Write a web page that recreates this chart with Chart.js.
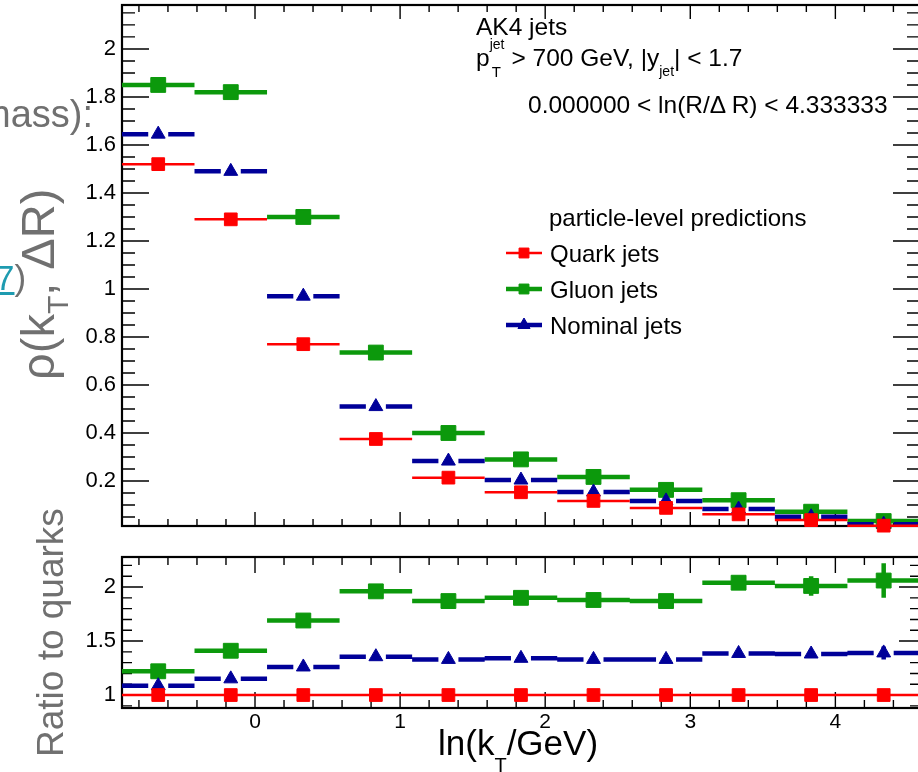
<!DOCTYPE html>
<html lang="en">
<head>
<meta charset="UTF-8">
<meta name="viewport" content="width=device-width, initial-scale=1.0">
<title>Primary Lund plane density: quark vs gluon jets</title>
<script src="https://cdn.jsdelivr.net/npm/chart.js"></script>
<style>
  html, body { margin: 0; padding: 0; background: #fff; }
  body { position: relative; width: 918px; height: 772px; overflow: hidden;
         font-family: "Liberation Sans", Arial, Helvetica, sans-serif; }
  .pane { position: absolute; left: 0; width: 930px; }
  #topPane { top: 0; height: 540px; }
  #ratioPane { top: 540px; height: 232px; }
  .label { position: absolute; white-space: nowrap; line-height: 1; color: #000; z-index: 2; }
  .slide { position: absolute; white-space: nowrap; line-height: 1; color: #707070; z-index: 3; }
  .rot { transform: rotate(-90deg); transform-origin: 0 0; }
  .ss { position: relative; display: inline-block; width: 15px; height: 1px; }
  .ss .up { position: absolute; left: 0; top: -28px; font-size: 14px; }
  .ss .dn { position: absolute; left: 2px; top: -1px; font-size: 15px; }
  .sb { position: relative; top: 10px; font-size: 14px; }
  .xt { position: relative; top: 17px; font-size: 20px; }
</style>
</head>
<body>
<div class="pane" id="topPane"><canvas id="rhoChart"></canvas></div>
<div class="pane" id="ratioPane"><canvas id="ratioChart"></canvas></div>

<!-- plot annotations -->
<div class="label" style="left:476px; top:15px; font-size:24.5px;">AK4 jets</div>
<div class="label" style="left:476px; top:46px; font-size:24.5px;">p<span class="ss"><span class="up">jet</span><span class="dn">T</span></span> &gt; 700 GeV, |y<span class="sb">jet</span>| &lt; 1.7</div>
<div class="label" style="left:528px; top:93px; font-size:24.5px;">0.000000 &lt; ln(R/&Delta; R) &lt; 4.333333</div>
<div class="label" style="left:438px; top:725px; font-size:35px;">ln(k<span class="xt">T</span>/GeV)</div>

<!-- slide text around the cropped figure -->
<div class="slide" style="right:825px; top:95px; font-size:38px;">mass):</div>
<div class="slide" style="left:-5px; top:260px; font-size:35px;"><span style="color:#1e9bb0; text-decoration:underline;">7</span>)</div>
<div class="slide rot" style="left:14px; top:380px; font-size:47px;">&rho;(k<span style="position:relative; top:14px; font-size:30px;">T</span>, &Delta;R)</div>
<div class="slide rot" style="left:32px; top:757px; font-size:37px;">Ratio to quarks</div>

<script>
    // bins in ln(kT/GeV), width 0.5
    const binCenters = [-0.667, -0.167, 0.333, 0.833, 1.333, 1.833, 2.333, 2.833, 3.333, 3.833, 4.333];
    const binHalfWidth = 0.25;

    // rho(kT, dR) per bin
    const quarkRho   = [1.52, 1.29, 0.77, 0.375, 0.214, 0.153, 0.117, 0.088, 0.061, 0.037, 0.014];
    const gluonRho   = [1.85, 1.82, 1.30, 0.735, 0.400, 0.290, 0.217, 0.163, 0.120, 0.072, 0.033];
    const nominalRho = [1.645, 1.49, 0.97, 0.51, 0.283, 0.204, 0.154, 0.117, 0.083, 0.051, 0.020];

    // ratio to quark jets
    const quarkRatio      = [1, 1, 1, 1, 1, 1, 1, 1, 1, 1, 1];
    const gluonRatio      = [1.22, 1.41, 1.69, 1.96, 1.87, 1.90, 1.88, 1.87, 2.04, 2.01, 2.06];
    const gluonRatioErr   = [0, 0, 0, 0, 0, 0, 0, 0, 0.04, 0.09, 0.16];
    const nominalRatio    = [1.086, 1.15, 1.26, 1.355, 1.33, 1.34, 1.33, 1.33, 1.385, 1.38, 1.39];
    const nominalRatioErr = [0, 0, 0, 0, 0, 0, 0, 0, 0, 0.02, 0.06];

    // axis ranges
    const kTRange    = [-0.9167, 4.5833];
    const rhoRange   = [0.0125, 2.183];
    const ratioRange = [0.88, 2.278];
    const legendTitle = 'particle-level predictions';

    const fontFamily = '"Liberation Sans", Arial, Helvetica, sans-serif';
    Chart.defaults.font.family = fontFamily;
    Chart.defaults.color = '#000';

    const quarkStyle   = { label: 'Quark jets',   color: '#ff0000', marker: 'rect',     radius: 9,    width: 2.5, gap: 0 };
    const gluonStyle   = { label: 'Gluon jets',   color: '#0c990c', marker: 'rect',     radius: 10.5, width: 4.5, gap: 0 };
    const nominalStyle = { label: 'Nominal jets', color: '#000099', marker: 'triangle', radius: 8,    width: 4.5, gap: 10 };

    function makeDataset(s, values, errs) {
        return {
            label: s.label,
            data: binCenters.map((x, i) => ({ x: x, y: values[i], xerr: binHalfWidth, yerr: errs ? errs[i] : 0 })),
            pointStyle: s.marker,
            pointRadius: s.radius,
            pointHoverRadius: s.radius,
            backgroundColor: s.color,
            borderColor: s.color,
            borderWidth: 1,
            barWidth: s.width,
            barGap: s.gap,
            showLine: false,
            clip: false
        };
    }

    // horizontal bin-width bars and vertical stat. errors, drawn just under each dataset's markers
    const errorBars = {
        id: 'errorBars',
        beforeDatasetDraw(chart, args) {
            const ds = chart.data.datasets[args.index];
            const xs = chart.scales.x, ys = chart.scales.y;
            const ctx = chart.ctx;
            ctx.save();
            ctx.strokeStyle = ds.borderColor;
            ctx.lineWidth = ds.barWidth;
            ctx.beginPath();
            ds.data.forEach(p => {
                const px = xs.getPixelForValue(p.x), py = ys.getPixelForValue(p.y);
                const x0 = xs.getPixelForValue(p.x - p.xerr), x1 = xs.getPixelForValue(p.x + p.xerr);
                ctx.moveTo(x0, py); ctx.lineTo(px - ds.barGap, py);
                ctx.moveTo(px + ds.barGap, py); ctx.lineTo(x1, py);
                if (p.yerr) {
                    ctx.moveTo(px, ys.getPixelForValue(p.y - p.yerr));
                    ctx.lineTo(px, ys.getPixelForValue(p.y + p.yerr));
                }
            });
            ctx.stroke();
            ctx.restore();
        }
    };

    function eachTick(scale, minor, major, fn) {
        const k0 = Math.ceil(scale.min / minor - 1e-6), k1 = Math.floor(scale.max / minor + 1e-6);
        for (let k = k0; k <= k1; k++) {
            const v = k * minor, r = v / major;
            fn(v, Math.abs(r - Math.round(r)) < 1e-6);
        }
    }

    // ROOT style frame with ticks pointing inwards on all four sides
    const rootAxes = {
        id: 'rootAxes',
        beforeDatasetsDraw(chart, args, o) {
            const { ctx, chartArea: a } = chart;
            const x = chart.scales.x, y = chart.scales.y;
            ctx.save();
            ctx.strokeStyle = '#000';
            ctx.lineWidth = 1.4;
            ctx.beginPath();
            eachTick(x, o.xMinor, o.xMajor, (v, major) => {
                const px = x.getPixelForValue(v), len = major ? o.xMajorLen : o.xMinorLen;
                ctx.moveTo(px, a.top); ctx.lineTo(px, a.top + len);
                ctx.moveTo(px, a.bottom); ctx.lineTo(px, a.bottom - len);
            });
            eachTick(y, o.yMinor, o.yMajor, (v, major) => {
                const py = y.getPixelForValue(v), len = major ? o.yMajorLen : o.yMinorLen;
                ctx.moveTo(a.left, py); ctx.lineTo(a.left + len, py);
                ctx.moveTo(a.right, py); ctx.lineTo(a.right - len, py);
            });
            ctx.stroke();
            ctx.lineWidth = 2.2;
            ctx.strokeRect(a.left, a.top, a.width, a.height);
            ctx.restore();
        }
    };

    const rootLegend = {
        id: 'rootLegend',
        afterDraw(chart, args, o) {
            if (!o.show) return;
            const ctx = chart.ctx;
            ctx.save();
            ctx.font = o.fontSize + 'px ' + fontFamily;
            ctx.textBaseline = 'alphabetic';
            ctx.fillStyle = '#000';
            ctx.fillText(o.title, o.titleX, o.titleY);
            o.order.forEach((idx, k) => {
                const ds = chart.data.datasets[idx];
                const yc = o.rowY[k];
                ctx.strokeStyle = ds.borderColor;
                ctx.lineWidth = ds.barWidth;
                ctx.beginPath();
                ctx.moveTo(o.symX0, yc); ctx.lineTo(o.symX1, yc);
                ctx.stroke();
                ctx.fillStyle = ds.backgroundColor;
                ctx.lineWidth = 1;
                Chart.helpers.drawPoint(ctx, { pointStyle: ds.pointStyle, radius: o.markerRadius, rotation: 0, borderWidth: 1 },
                    (o.symX0 + o.symX1) / 2, yc);
                ctx.fillStyle = '#000';
                ctx.fillText(ds.label, o.textX, yc + o.baselineShift);
            });
            ctx.restore();
        }
    };

    function majorLabel(step) {
        return v => {
            const r = v / step;
            return Math.abs(r - Math.round(r)) < 1e-6 ? String(+v.toFixed(2)) : null;
        };
    }

    function yAxis(range, step) {
        return {
            type: 'linear',
            min: range[0],
            max: range[1],
            grid: { display: false, drawTicks: false },
            border: { display: false },
            ticks: { stepSize: step, includeBounds: false, autoSkip: false, padding: 6,
                     font: { size: 22 }, color: '#000', callback: majorLabel(step) },
            afterFit: s => { s.width = 122; s.paddingTop = 0; s.paddingBottom = 0; }
        };
    }

    // upper panel
    new Chart(document.getElementById('rhoChart'), {
        type: 'scatter',
        data: {
            datasets: [
                makeDataset(quarkStyle, quarkRho),
                makeDataset(nominalStyle, nominalRho),
                makeDataset(gluonStyle, gluonRho)
            ]
        },
        options: {
            responsive: true,
            maintainAspectRatio: false,
            animation: false,
            events: [],
            layout: { autoPadding: false, padding: { left: 0, top: 5, right: 10, bottom: 14 } },
            scales: {
                x: { type: 'linear', min: kTRange[0], max: kTRange[1], display: false },
                y: yAxis(rhoRange, 0.2)
            },
            plugins: {
                legend: { display: false },
                tooltip: { enabled: false },
                rootAxes: { xMinor: 0.2, xMajor: 1, xMajorLen: 14, xMinorLen: 7,
                            yMinor: 0.05, yMajor: 0.2, yMajorLen: 27, yMinorLen: 13 },
                rootLegend: { show: true, title: legendTitle, fontSize: 24, titleX: 549, titleY: 226,
                              order: [0, 2, 1], rowY: [253, 289, 325], symX0: 506, symX1: 542,
                              markerRadius: 7, textX: 550, baselineShift: 8.5 }
            }
        },
        plugins: [errorBars, rootAxes, rootLegend]
    });

    // ratio panel
    new Chart(document.getElementById('ratioChart'), {
        type: 'scatter',
        data: {
            datasets: [
                makeDataset(quarkStyle, quarkRatio),
                makeDataset(nominalStyle, nominalRatio, nominalRatioErr),
                makeDataset(gluonStyle, gluonRatio, gluonRatioErr)
            ]
        },
        options: {
            responsive: true,
            maintainAspectRatio: false,
            animation: false,
            events: [],
            layout: { autoPadding: false, padding: { left: 0, top: 17, right: 10, bottom: 0 } },
            scales: {
                x: {
                    type: 'linear',
                    min: kTRange[0],
                    max: kTRange[1],
                    grid: { display: false, drawTicks: false },
                    border: { display: false },
                    ticks: { stepSize: 1, includeBounds: false, autoSkip: false, maxRotation: 0, padding: 2,
                             font: { size: 21 }, color: '#000', callback: majorLabel(1) },
                    afterFit: s => { s.height = 64; s.paddingLeft = 0; s.paddingRight = 0; }
                },
                y: yAxis(ratioRange, 0.5)
            },
            plugins: {
                legend: { display: false },
                tooltip: { enabled: false },
                rootAxes: { xMinor: 0.2, xMajor: 1, xMajorLen: 16, xMinorLen: 8,
                            yMinor: 0.1, yMajor: 0.5, yMajorLen: 21, yMinorLen: 10 },
                rootLegend: { show: false }
            }
        },
        plugins: [errorBars, rootAxes, rootLegend]
    });
</script>
</body>
</html>
